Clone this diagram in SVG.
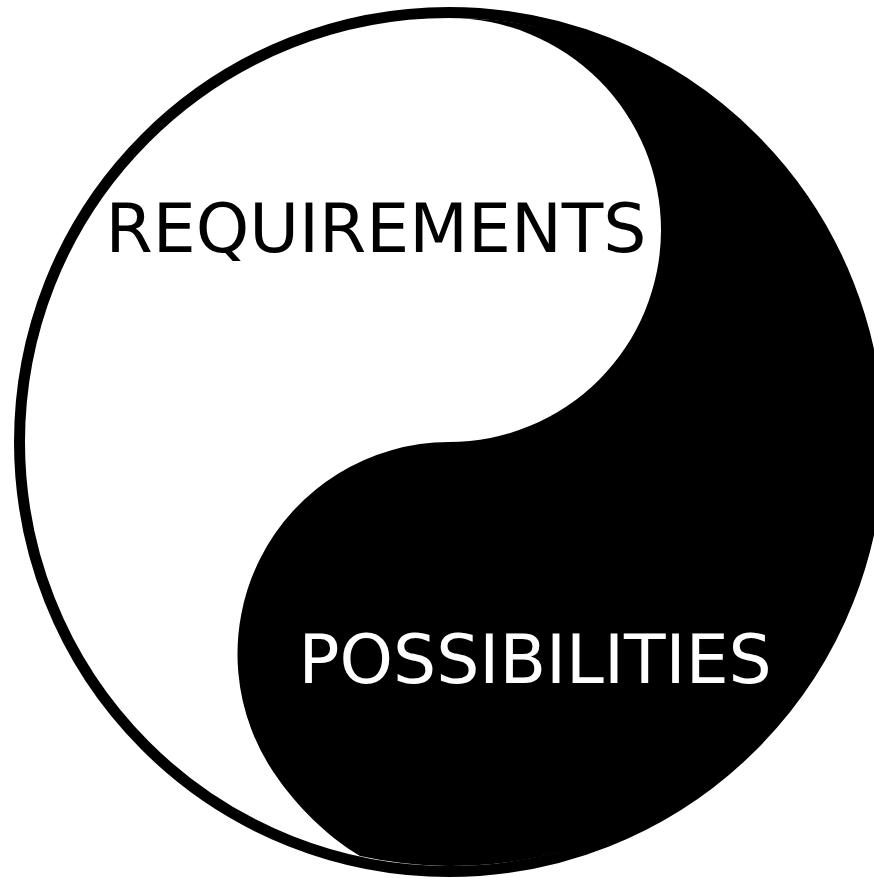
<svg xmlns="http://www.w3.org/2000/svg" width="874" height="878" viewBox="0 0 874 878">
  <style>
    .label { font-family: "DejaVu Sans", Verdana, sans-serif; font-size: 68px; }
  </style>
  <rect width="874" height="878" fill="#ffffff"/>
  <g id="yin-yang">
    <circle cx="449" cy="442" r="430" fill="#ffffff"/>
    <path id="dark-half" fill="#000000" d="M 449 18 A 212 212 0 0 1 449 442 A 212 212 0 0 0 279 780 C 295 803 326 836 360 856 A 424 424 0 1 0 449 18 Z"/>
    <circle id="ring" cx="449" cy="442" r="429.5" fill="none" stroke="#000000" stroke-width="11"/>
  </g>
  <g id="requirements">
    <text class="label" x="105.5" y="251.5" fill="#000000">REQUIREMENTS</text>
  </g>
  <g id="possibilities">
    <text class="label" x="298.5" y="683.3" fill="#ffffff">POSSIBILITIES</text>
  </g>
</svg>
